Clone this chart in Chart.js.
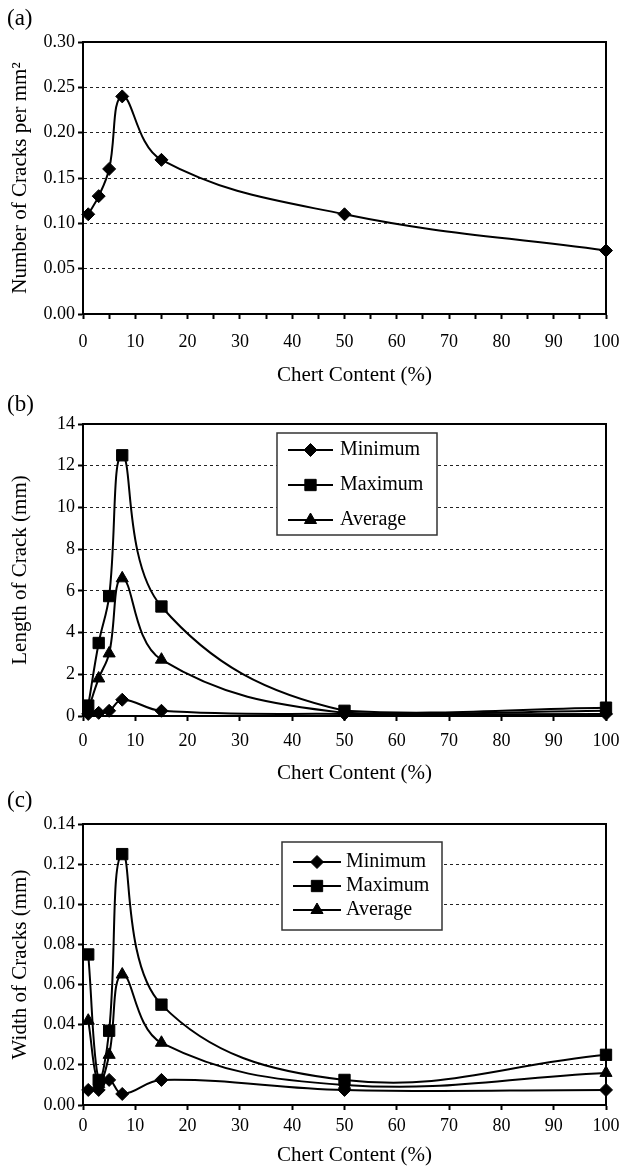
<!DOCTYPE html>
<html>
<head>
<meta charset="utf-8">
<script src="https://cdn.jsdelivr.net/npm/chart.js@4.4.1/dist/chart.umd.min.js"></script>
<style>
  body { margin: 0; background: #fff; width: 622px; height: 1166px; overflow: hidden; position: relative;
         font-family: "Liberation Serif", "Times New Roman", serif; }
  canvas { position: absolute; left: 0; }
  .tag { position: absolute; left: 7px; font-size: 23px; line-height: 23px; color: #000; }
</style>
</head>
<body>
<canvas id="chartA" width="622" height="390" style="top:0px"></canvas>
<canvas id="chartB" width="622" height="396" style="top:390px"></canvas>
<canvas id="chartC" width="622" height="378" style="top:790px"></canvas>
<div class="tag" style="top:6px">(a)</div>
<div class="tag" style="top:392px">(b)</div>
<div class="tag" style="top:788px">(c)</div>
<script>
// chert content (%) - shared x values
const chertContent = [1, 3, 5, 7.5, 15, 50, 100];

// (a) number of cracks per mm2
const crackDensity = [0.11, 0.13, 0.16, 0.24, 0.17, 0.11, 0.07];

// (b) length of crack (mm)
const lengthMin = [0.1, 0.15, 0.25, 0.78, 0.25, 0.1, 0.1];
const lengthMax = [0.5, 3.5, 5.75, 12.5, 5.25, 0.25, 0.4];
const lengthAvg = [0.3, 1.8, 3.0, 6.6, 2.7, 0.15, 0.25];

// (c) width of cracks (mm)
const widthMin = [0.0075, 0.0075, 0.0125, 0.0055, 0.0125, 0.0075, 0.0075];
const widthMax = [0.075, 0.0125, 0.037, 0.125, 0.05, 0.0125, 0.025];
const widthAvg = [0.042, 0.0105, 0.025, 0.065, 0.031, 0.01, 0.016];

const seriesNames = ["Minimum", "Maximum", "Average"];
const xTitle = "Chert Content (%)";

const SERIF = '"Liberation Serif", "Times New Roman", serif';
Chart.defaults.font.family = SERIF;
Chart.defaults.color = "#000";

const toPoints = (ys) => chertContent.map((x, i) => ({ x: x, y: ys[i] }));

const markers = {
  Minimum: { pointStyle: "rectRot", pointRadius: 6.5 },
  Maximum: { pointStyle: "rect", pointRadius: 8 },
  Average: { pointStyle: "triangle", pointRadius: 7 }
};

function makeDataset(label, ys, style) {
  return {
    label: label,
    data: toPoints(ys),
    borderColor: "#000",
    backgroundColor: "#000",
    borderWidth: 2,
    pointStyle: style.pointStyle,
    pointRadius: style.pointRadius,
    pointHoverRadius: style.pointRadius,
    pointBorderWidth: 1,
    tension: 0.4,
    fill: false,
    clip: 12
  };
}

// black frame round the plot area
const frame = {
  id: "frame",
  beforeDatasetsDraw(chart) {
    const { ctx, chartArea: a } = chart;
    ctx.save();
    ctx.strokeStyle = "#000";
    ctx.lineWidth = 2;
    ctx.strokeRect(a.left, a.top, a.right - a.left, a.bottom - a.top);
    ctx.restore();
  }
};

// x axis title, sitting a little right of the axis centre as in the original
const xAxisTitle = {
  id: "xAxisTitle",
  afterDraw(chart, args, o) {
    const s = chart.scales.x;
    const ctx = chart.ctx;
    ctx.save();
    ctx.font = "21px " + SERIF;
    ctx.fillStyle = "#000";
    ctx.textAlign = "center";
    ctx.textBaseline = "middle";
    ctx.fillText(o.text, (s.left + s.right) / 2 + o.shift, s.bottom - o.fromBottom);
    ctx.restore();
  }
};

// boxed legend drawn at a fixed place inside the plot
const boxLegend = {
  id: "boxLegend",
  afterDraw(chart, args, o) {
    if (!o || !o.box) return;
    const ctx = chart.ctx;
    const [x0, y0, x1, y1] = o.box;
    ctx.save();
    ctx.fillStyle = "#fff";
    ctx.fillRect(x0, y0, x1 - x0, y1 - y0);
    ctx.strokeStyle = "#333";
    ctx.lineWidth = 1.5;
    ctx.strokeRect(x0, y0, x1 - x0, y1 - y0);
    chart.data.datasets.forEach((ds, i) => {
      const y = o.rows[i];
      ctx.strokeStyle = "#000";
      ctx.fillStyle = "#000";
      ctx.lineWidth = 2;
      ctx.beginPath();
      ctx.moveTo(o.line[0], y);
      ctx.lineTo(o.line[1], y);
      ctx.stroke();
      const mx = (o.line[0] + o.line[1]) / 2;
      ctx.lineWidth = 1;
      if (Chart.helpers && Chart.helpers.drawPoint) {
        Chart.helpers.drawPoint(ctx, { pointStyle: ds.pointStyle, radius: ds.pointRadius, rotation: 0, borderWidth: 1 }, mx, y);
      }
      ctx.font = "20px " + SERIF;
      ctx.textBaseline = "middle";
      ctx.textAlign = "left";
      ctx.fillText(ds.label, o.textX, y);
    });
    ctx.restore();
  }
};

function makeChart(id, cfg) {
  return new Chart(document.getElementById(id), {
    type: "line",
    data: { datasets: cfg.datasets },
    plugins: [frame, boxLegend, xAxisTitle],
    options: {
      responsive: false,
      animation: false,
      events: [],
      layout: { padding: { top: cfg.padTop, right: 16, left: 0, bottom: 0 } },
      plugins: {
        legend: { display: false },
        tooltip: { enabled: false },
        boxLegend: cfg.legend || {},
        xAxisTitle: { text: xTitle, shift: 10, fromBottom: 12.6 + cfg.xTitlePad }
      },
      scales: {
        x: {
          type: "linear",
          min: 0,
          max: 100,
          afterFit: (s) => {
            s.height = cfg.xHeight;
            s.paddingLeft = 0;
            s.paddingRight = 0;
          },
          afterBuildTicks: (s) => {
            s.ticks = [];
            for (let v = 0; v <= 100; v += cfg.xStep) s.ticks.push({ value: v });
          },
          ticks: {
            autoSkip: false,
            maxRotation: 0,
            padding: cfg.xPad,
            font: { size: 18 },
            callback: (v) => (v % 10 === 0 ? String(v) : "")
          },
          grid: { drawOnChartArea: false, drawTicks: true, tickLength: 5, tickWidth: 2, tickColor: "#000", color: "#000" },
          border: { display: true, color: "#000", width: 2 },
          title: { display: false }
        },
        y: {
          min: 0,
          max: cfg.yMax,
          afterFit: (s) => {
            s.width = 83;
            s.paddingTop = 0;
            s.paddingBottom = 0;
          },
          afterBuildTicks: (s) => {
            s.ticks = [];
            const n = Math.round(cfg.yMax / cfg.yStep);
            for (let k = 0; k <= n; k++) s.ticks.push({ value: +(k * cfg.yStep).toFixed(4) });
          },
          ticks: {
            padding: 3,
            font: { size: 18 },
            callback: (v) => Number(v).toFixed(cfg.yDigits)
          },
          grid: {
            color: "#222",
            lineWidth: 1,
            tickLength: 5,
            tickWidth: 2,
            tickColor: "#000",
            tickBorderDash: []
          },
          border: { display: true, color: "#000", width: 2, dash: [3, 3] },
          title: { display: true, text: cfg.yTitle, font: { size: 21 }, padding: { top: 8, bottom: 0 } }
        }
      }
    }
  });
}

makeChart("chartA", {
  datasets: [makeDataset("Cracks", crackDensity, markers.Minimum)],
  padTop: 42, xHeight: 76, xPad: 12, xTitlePad: 2, xStep: 5,
  yMax: 0.30, yStep: 0.05, yDigits: 2,
  yTitle: "Number of Cracks per mm\u00B2"
});

makeChart("chartB", {
  datasets: [
    makeDataset(seriesNames[0], lengthMin, markers.Minimum),
    makeDataset(seriesNames[1], lengthMax, markers.Maximum),
    makeDataset(seriesNames[2], lengthAvg, markers.Average)
  ],
  padTop: 34, xHeight: 70, xPad: 9, xTitlePad: 0, xStep: 10,
  yMax: 14, yStep: 2, yDigits: 0,
  yTitle: "Length of Crack (mm)",
  legend: { box: [277, 43, 437, 145], rows: [60, 95, 130], line: [288, 333], textX: 340 }
});

makeChart("chartC", {
  datasets: [
    makeDataset(seriesNames[0], widthMin, markers.Minimum),
    makeDataset(seriesNames[1], widthMax, markers.Maximum),
    makeDataset(seriesNames[2], widthAvg, markers.Average)
  ],
  padTop: 34, xHeight: 63, xPad: 5, xTitlePad: 0, xStep: 10,
  yMax: 0.14, yStep: 0.02, yDigits: 2,
  yTitle: "Width of Cracks (mm)",
  legend: { box: [282, 52, 442, 140], rows: [72, 96, 120], line: [293, 341], textX: 346 }
});
</script>
</body>
</html>
